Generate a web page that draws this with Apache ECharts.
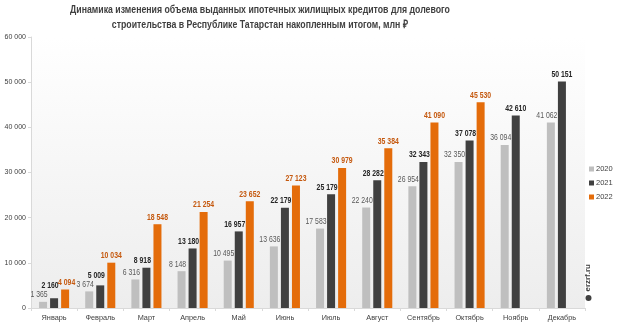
<!DOCTYPE html>
<html>
<head>
<meta charset="utf-8">
<script src="https://cdn.jsdelivr.net/npm/echarts@6/dist/echarts.min.js"></script>
<style>
  html, body { margin: 0; padding: 0; background: #ffffff; }
  #chart { width: 620px; height: 325px; }
</style>
</head>
<body>
<div id="chart"></div>
<script>
// Cumulative mortgage lending for shared construction, Republic of Tatarstan, mln RUB
const months = ['Январь', 'Февраль', 'Март', 'Апрель', 'Май', 'Июнь', 'Июль', 'Август', 'Сентябрь', 'Октябрь', 'Ноябрь', 'Декабрь'];
const years = ['2020', '2021', '2022'];
const values2020 = [1365, 3674, 6316, 8148, 10495, 13636, 17583, 22240, 26954, 32350, 36094, 41062];
const values2021 = [2160, 5009, 8918, 13180, 16957, 22179, 25179, 28282, 32343, 37078, 42610, 50151];
const values2022 = [4094, 10034, 18548, 21254, 23652, 27123, 30979, 35384, 41090, 45530, null, null];
const yTicks = { min: 0, max: 60000, step: 10000 };
const titleLines = [
  'Динамика изменения объема выданных ипотечных жилищных кредитов для долевого',
  'строительства в Республике Татарстан накопленным итогом, млн ₽'
];

const FONT = '"Liberation Sans", Arial, sans-serif';
const NARROW = 0.8; // horizontal squeeze giving a narrow-face look
const fmt = v => String(Math.round(v)).replace(/\B(?=(\d{3})+(?!\d))/g, ' ');

const colors = ['#bfbfbf', '#404040', '#e46c0a'];
const labelStyles = [
  { color: '#595959', fontWeight: 'normal' },
  { color: '#262626', fontWeight: 'bold' },
  { color: '#c5590f', fontWeight: 'bold' }
];
const seriesData = [values2020, values2021, values2022];
const BAR_W = 8;
const BAR_GAP = 0.38;
const slotStep = BAR_W * (1 + BAR_GAP);
const LABEL_PAD = 2.5;
const LABEL_LINE = 9;

const chart = echarts.init(document.getElementById('chart'), null, { renderer: 'canvas' });

// Bars
const barSeries = years.map((name, i) => ({
  name: name,
  type: 'bar',
  data: seriesData[i],
  barWidth: BAR_W,
  barGap: (BAR_GAP * 100) + '%',
  itemStyle: { color: colors[i] }
}));

// Baseline of the 2021 label, lifted when it would sit on the 2020 one
function label2021Y(api, k) {
  const y = api.coord([k, values2021[k]])[1] - LABEL_PAD;
  const yPrev = api.coord([k, values2020[k]])[1] - LABEL_PAD;
  return (yPrev - y < LABEL_LINE) ? yPrev - LABEL_LINE : y;
}

// Value labels drawn on top of all bars, narrow text nudged to avoid neighbours
const labelSeries = years.map((name, i) => ({
  name: 'label-' + name,
  type: 'custom',
  z: 10,
  silent: true,
  data: seriesData[i].map((v, k) => [k, v]),
  encode: { x: 0, y: 1 },
  renderItem: (params, api) => {
    const k = api.value(0);
    const v = seriesData[i][k];
    if (v == null) return null;
    const pt = api.coord([k, v]);
    let y = pt[1] - LABEL_PAD;
    let nudge = 0;
    if (i === 0) {
      nudge = -4;
    } else if (i === 1) {
      y = label2021Y(api, k);
      if (values2022[k] != null) nudge = -4;
    } else if (Math.abs(label2021Y(api, k) - y) < LABEL_LINE) {
      nudge = 1.5;
    }
    return {
      type: 'text',
      x: pt[0] + (i - 1) * slotStep + nudge,
      y: y,
      scaleX: NARROW,
      style: {
        text: fmt(v),
        fontFamily: FONT,
        fontSize: 8.6,
        fontWeight: labelStyles[i].fontWeight,
        fill: labelStyles[i].color,
        align: 'center',
        verticalAlign: 'bottom'
      }
    };
  }
}));

chart.setOption({
  animation: false,
  textStyle: { fontFamily: FONT },
  legend: {
    orient: 'vertical',
    left: 584,
    top: 160,
    itemWidth: 5,
    itemHeight: 5,
    itemGap: 6,
    icon: 'rect',
    selectedMode: false,
    textStyle: { fontFamily: FONT, fontSize: 7.5, color: '#404040', padding: [0, 0, 0, -3] },
    data: years
  },
  grid: {
    left: 31,
    right: 35,
    top: 37,
    bottom: 17,
    show: true,
    borderWidth: 0,
    backgroundColor: {
      type: 'linear', x: 0, y: 0, x2: 0, y2: 1,
      colorStops: [{ offset: 0, color: '#ffffff' }, { offset: 1, color: '#ededed' }]
    }
  },
  xAxis: {
    type: 'category',
    data: months,
    axisLine: { lineStyle: { color: '#d9d9d9' } },
    axisTick: { show: true, length: 3, lineStyle: { color: '#d9d9d9' } },
    axisLabel: { fontFamily: FONT, fontSize: 7.3, color: '#404040', margin: 6, interval: 0 }
  },
  yAxis: {
    type: 'value',
    min: yTicks.min,
    max: yTicks.max,
    interval: yTicks.step,
    axisLine: { show: true, lineStyle: { color: '#d9d9d9' } },
    axisTick: { show: true, length: 3, lineStyle: { color: '#d9d9d9' } },
    splitLine: { show: false },
    axisLabel: { fontFamily: FONT, fontSize: 7, color: '#404040', margin: 5, formatter: v => fmt(v) }
  },
  series: barSeries.concat(labelSeries),
  graphic: [
    // Two-line condensed title
    ...titleLines.map((line, i) => ({
      type: 'text',
      x: 260,
      y: 4 + i * 15,
      scaleX: 0.76,
      style: {
        text: line,
        fontFamily: FONT,
        fontSize: 11.5,
        fontWeight: 'bold',
        fill: '#404040',
        align: 'center',
        verticalAlign: 'top'
      }
    })),
    {
      type: 'group',
      left: 584,
      top: 264,
      children: [
        {
          type: 'text',
          rotation: Math.PI / 2,
          x: 1,
          y: 35,
          style: { text: 'erzrf.ru', fontFamily: FONT, fontSize: 8, fontWeight: 'bold', fill: '#404040' }
        },
        {
          type: 'circle',
          shape: { cx: 5.5, cy: 41.5, r: 3 },
          style: { fill: '#404040' }
        }
      ]
    }
  ]
});
</script>
</body>
</html>
